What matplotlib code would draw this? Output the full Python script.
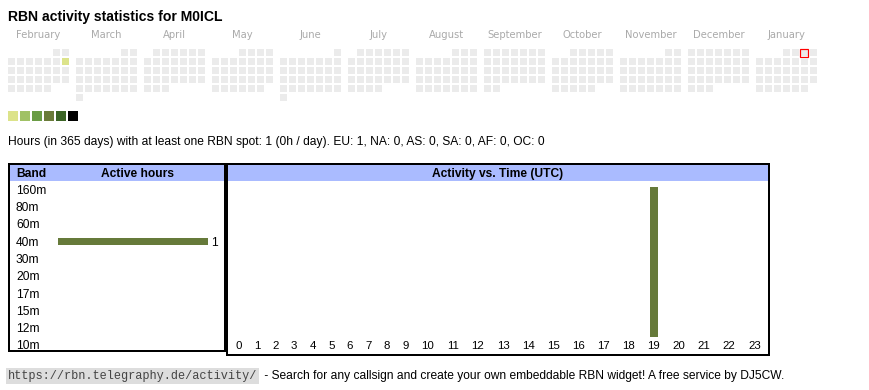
import datetime as dt
import numpy as np
import matplotlib.pyplot as plt
from matplotlib.patches import Rectangle
from matplotlib.transforms import blended_transform_factory

# figure size in pixels
W, H = 870, 390

title = "RBN activity statistics for M0ICL"
summary = ("Hours (in 365 days) with at least one RBN spot: 1 (0h / day). "
           "EU: 1, NA: 0, AS: 0, SA: 0, AF: 0, OC: 0")

# calendar data
cal_months = [(2025, 2), (2025, 3), (2025, 4), (2025, 5), (2025, 6), (2025, 7),
              (2025, 8), (2025, 9), (2025, 10), (2025, 11), (2025, 12), (2026, 1)]
month_names = ["February", "March", "April", "May", "June", "July", "August",
               "September", "October", "November", "December", "January"]
active_days = ["2025-02-09"]
active_levels = [1]
today = "2026-01-03"
level_colors = ["#dce38a", "#a0c165", "#6a9c45", "#6a7b39", "#3b6425", "#000000"]
empty_color = "#ebebeb"

# band table
bands = ["160m", "80m", "60m", "40m", "30m", "20m", "17m", "15m", "12m", "10m"]
band_hours = [0, 0, 0, 1, 0, 0, 0, 0, 0, 0]

# activity per UTC hour
hours = list(range(24))
hour_counts = [0, 0, 0, 0, 0, 0, 0, 0, 0, 0, 0, 0,
               0, 0, 0, 0, 0, 0, 0, 1, 0, 0, 0, 0]

url = "https://rbn.telegraphy.de/activity/"
footer = " - Search for any callsign and create your own embeddable RBN widget! A free service by DJ5CW."

bar_color = "#667a3a"
head_color = "#aabbff"
sans = "Liberation Sans"
fs = 12 * 0.72


def px(v):
    return v * 0.72


def frect(x0, y0, x1, y1):
    return [x0 / W, 1 - y1 / H, (x1 - x0) / W, (y1 - y0) / H]


fig = plt.figure(figsize=(W / 100, H / 100), dpi=100)
bg = fig.add_axes([0, 0, 1, 1])
bg.set_xlim(0, W)
bg.set_ylim(H, 0)
bg.axis("off")

bg.text(8, 21, title, fontsize=px(14), fontweight="bold", family=sans,
        va="baseline")

# calendar heatmap
cell, pitch, month_w = 7, 9, 68
x_cal, y_cal = 8, 49
active = {dt.date.fromisoformat(d): l for d, l in zip(active_days, active_levels)}
today_d = dt.date.fromisoformat(today)
for mi, (yr, mo) in enumerate(cal_months):
    first = dt.date(yr, mo, 1)
    nxt = dt.date(yr + mo // 12, mo % 12 + 1, 1)
    x_m = x_cal + mi * month_w
    bg.text(x_m + (7 * pitch - 2) / 2, 38, month_names[mi], fontsize=px(10),
            family="DejaVu Sans", color="#aaaaaa", ha="center", va="baseline")
    d = first
    while d < nxt:
        col = d.weekday()
        row = (d.day - 1 + first.weekday()) // 7
        x = x_m + col * pitch
        y = y_cal + row * pitch
        c = level_colors[active[d] - 1] if d in active else empty_color
        bg.add_patch(Rectangle((x, y), cell, cell, fc=c, ec="none"))
        if d == today_d:
            bg.add_patch(Rectangle((x - 0.5, y - 0.5), cell + 1, cell + 1,
                                   fill=False, ec="red", lw=px(1.2)))
        d += dt.timedelta(days=1)

# legend squares
for i, c in enumerate(level_colors):
    bg.add_patch(Rectangle((8 + i * 12, 111), 10, 10, fc=c, ec="none"))

bg.text(8, 145.5, summary, fontsize=fs, family=sans, va="baseline")

# table frames and headers
bg.add_patch(Rectangle((10, 165), 214, 16, fc=head_color, ec="none"))
bg.add_patch(Rectangle((228.5, 165), 539.5, 16, fc=head_color, ec="none"))
bg.add_patch(Rectangle((9, 164), 216, 187, fill=False, ec="black", lw=px(2)))
bg.add_patch(Rectangle((227.5, 164), 541.5, 190.5, fill=False, ec="black", lw=px(2)))
bg.text(16, 177, "Band", fontsize=fs, fontweight="bold", family=sans, va="baseline")
bg.text(138, 177, "Active hours", fontsize=fs, fontweight="bold", family=sans,
        ha="center", va="baseline")
bg.text(498, 177, "Activity vs. Time (UTC)", fontsize=fs, fontweight="bold",
        family=sans, ha="center", va="baseline")

# band bars
row_h = 17.3
ax_b = fig.add_axes(frect(58, 189.5 - row_h / 2, 208, 189.5 + 9.5 * row_h))
yb = np.arange(len(bands))
ax_b.barh(yb, band_hours, height=7 / row_h, color=bar_color)
ax_b.set_xlim(0, max(band_hours))
ax_b.set_ylim(len(bands) - 0.5, -0.5)
ax_b.set_xticks([])
ax_b.set_yticks([])
tr = blended_transform_factory(bg.transData, ax_b.transData)
for i, b in enumerate(bands):
    ax_b.text(16, i + 4.2 / row_h, b, transform=tr, fontsize=fs, family=sans,
              va="baseline", clip_on=False)
for i, v in enumerate(band_hours):
    if v:
        ax_b.annotate(str(v), (v, i + 4.2 / row_h), xytext=(3, 0),
                      textcoords="offset pixels", va="baseline", fontsize=fs,
                      family=sans, annotation_clip=False)
for s in ax_b.spines.values():
    s.set_visible(False)
ax_b.patch.set_alpha(0)

# hour bars: column width follows the label width like the html table
widths = np.array([12.33 + 6.67 * len(str(h)) for h in hours])
centers = np.cumsum(widths) - widths / 2
ax_h = fig.add_axes(frect(229, 187, 767, 337))
ax_h.bar(centers, hour_counts, width=8, color=bar_color)
ax_h.set_xlim(0, widths.sum())
ax_h.set_ylim(0, max(hour_counts))
ax_h.set_yticks([])
ax_h.set_xticks(centers, [str(h) for h in hours])
ax_h.tick_params(axis="x", length=0, pad=px(4))
for lab in ax_h.get_xticklabels():
    lab.set_family(sans)
    lab.set_fontsize(px(11.5))
for s in ax_h.spines.values():
    s.set_visible(False)
ax_h.patch.set_alpha(0)

# footer
bg.text(8, 379, url, fontsize=px(11.9), family="Liberation Mono", color="#444444",
        va="baseline", bbox=dict(fc="#dddddd", ec="none", pad=1.2))
bg.text(261, 379, footer, fontsize=fs, family=sans, va="baseline")

fig.savefig("out.png", dpi=100)
